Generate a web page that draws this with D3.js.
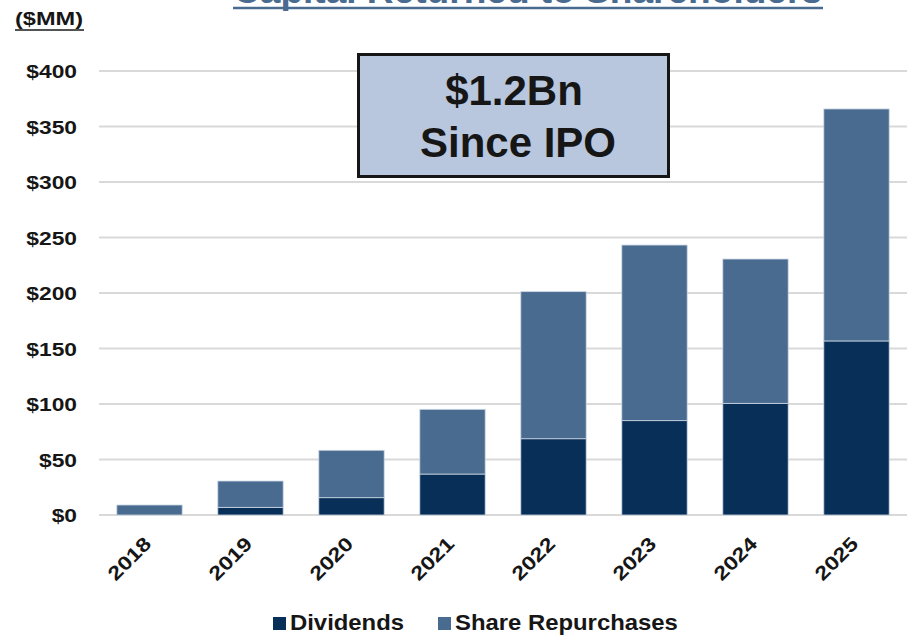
<!DOCTYPE html>
<html lang="en">
<head>
  <meta charset="utf-8" />
  <title>Capital Returned to Shareholders</title>
  <style>
    body { margin: 0; background: #fff; }
    svg { display: block; font-family: 'Liberation Sans', Arial, sans-serif; }
    .grid line { stroke: #d9d9d9; stroke-width: 2px; }
    .lbl { font-weight: 700; fill: #161616; }
  </style>
</head>
<body>
<div id="chart"></div>
<script src="https://d3js.org/d3.v7.min.js"></script>
<script>
// ---- data ($MM) ----
const years       = ["2018", "2019", "2020", "2021", "2022", "2023", "2024", "2025"];
const dividends   = [0, 6.9, 15.6, 36.9, 68.7, 85, 100.6, 156.8];
const repurchases = [9, 23.7, 42.7, 58.3, 132.5, 158.2, 130, 209];
const yTicks      = [0, 50, 100, 150, 200, 250, 300, 350, 400];
const seriesNames = ["Dividends", "Share Repurchases"];
const colors      = ["#072f57", "#4a6b90"];

const W = 907, H = 635;

const svg = d3.select("#chart").append("svg")
    .attr("width", W)
    .attr("height", H);

const x = d3.scaleBand()
    .domain(years)
    .range([99, 907])
    .paddingInner(0.353)
    .paddingOuter(0.1765);

const y = d3.scaleLinear()
    .domain([0, 400])
    .range([515, 71]);

// widen text horizontally (the source art is a bit stretched)
function stretch(sel, k) {
  sel.each(function() {
    const len = this.getComputedTextLength();
    d3.select(this).attr("textLength", len * k).attr("lengthAdjust", "spacingAndGlyphs");
  });
}

// gridlines
svg.append("g")
    .attr("class", "grid")
  .selectAll("line")
  .data(yTicks)
  .join("line")
    .attr("x1", 99)
    .attr("x2", W)
    .attr("y1", d => y(d))
    .attr("y2", d => y(d));

// y axis labels
const yAxis = svg.append("g")
    .attr("transform", "translate(77,0)")
    .call(d3.axisLeft(y).tickValues(yTicks).tickSize(0).tickPadding(0).tickFormat(d => "$" + d));
yAxis.select(".domain").remove();
yAxis.selectAll("text")
    .attr("class", "lbl")
    .style("font-size", "19px")
    .attr("dy", "0.36em")
    .call(stretch, 1.2);

// stacked bars
const rows = years.map((yr, i) => ({ year: yr, Dividends: dividends[i], "Share Repurchases": repurchases[i] }));
const stacked = d3.stack().keys(seriesNames)(rows);

svg.append("g")
  .selectAll("g")
  .data(stacked)
  .join("g")
    .attr("fill", (d, i) => colors[i])
  .selectAll("rect")
  .data(d => d.filter(s => s[1] - s[0] > 0))
  .join("rect")
    .attr("x", d => x(d.data.year))
    .attr("width", x.bandwidth())
    .attr("y", d => y(d[1]))
    .attr("height", d => y(d[0]) - y(d[1]))
    .attr("stroke", "#c9d5e4")
    .attr("stroke-width", 0.8);

// x axis labels, rotated
svg.append("g")
  .selectAll("text")
  .data(years)
  .join("text")
    .attr("class", "lbl")
    .style("font-size", "19.5px")
    .attr("text-anchor", "end")
    .attr("transform", d => `translate(${x(d) + x.bandwidth() / 2 + 3},545) rotate(-45)`)
    .text(d => d)
    .call(stretch, 1.2);

// callout box
const box = svg.append("g");
box.append("rect")
    .attr("x", 358.5)
    .attr("y", 54.5)
    .attr("width", 310)
    .attr("height", 122)
    .attr("fill", "#b8c7dd")
    .attr("stroke", "#161616")
    .attr("stroke-width", 3);
box.append("text")
    .attr("class", "lbl")
    .attr("x", 514)
    .attr("y", 105)
    .attr("text-anchor", "middle")
    .style("font-size", "42px")
    .text("$1.2Bn");
box.append("text")
    .attr("class", "lbl")
    .attr("x", 518)
    .attr("y", 157)
    .attr("text-anchor", "middle")
    .style("font-size", "42px")
    .text("Since IPO");

// title (cut off at top edge)
svg.append("text")
    .attr("x", 233)
    .attr("y", 3)
    .attr("textLength", 589)
    .attr("lengthAdjust", "spacingAndGlyphs")
    .style("font-size", "36px")
    .style("font-weight", 700)
    .attr("fill", "#4a6b90")
    .text("Capital Returned to Shareholders");
svg.append("line")
    .attr("x1", 233)
    .attr("x2", 823)
    .attr("y1", 8)
    .attr("y2", 8)
    .attr("stroke", "#4a6b90")
    .attr("stroke-width", 2.5);

// units label
svg.append("text")
    .attr("class", "lbl")
    .attr("x", 15)
    .attr("y", 25)
    .attr("textLength", 68)
    .attr("lengthAdjust", "spacingAndGlyphs")
    .style("font-size", "19px")
    .text("($MM)");
svg.append("line")
    .attr("x1", 15)
    .attr("x2", 84)
    .attr("y1", 30)
    .attr("y2", 30)
    .attr("stroke", "#1a1a1a")
    .attr("stroke-width", 1.5);

// legend
const legend = svg.append("g");
const legendX = [273, 438];
seriesNames.forEach((name, i) => {
  const g = legend.append("g").attr("transform", `translate(${legendX[i]},617)`);
  g.append("rect")
      .attr("width", 13)
      .attr("height", 13)
      .attr("fill", colors[i]);
  g.append("text")
      .attr("class", "lbl")
      .attr("x", 17)
      .attr("y", 13)
      .style("font-size", "21.5px")
      .text(name)
      .call(stretch, 1.11);
});
</script>
</body>
</html>
